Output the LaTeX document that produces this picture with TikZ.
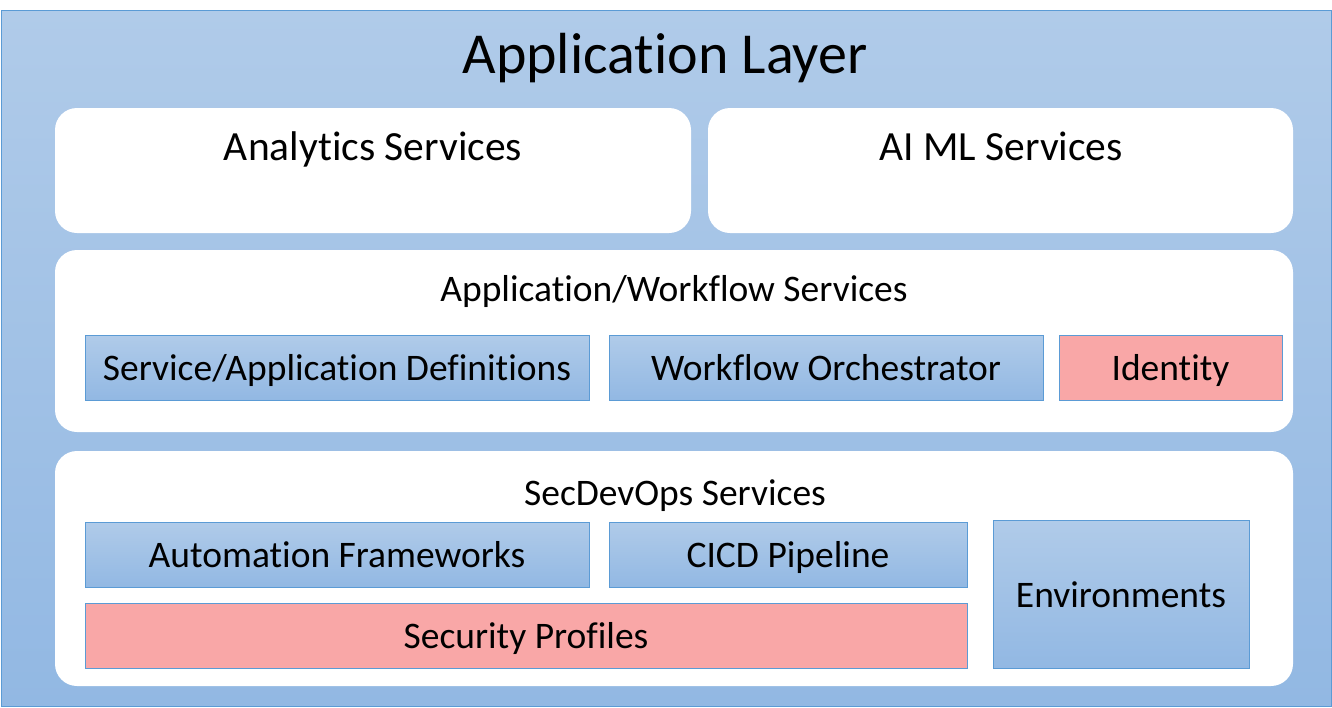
\documentclass[tikz,border=0pt]{standalone}
\usepackage{fontspec}
\setmainfont{Carlito}[Ligatures=NoCommon]
\usepackage{tikz}
\usetikzlibrary{positioning}
\usepackage{xcolor}
\definecolor{layertop}{RGB}{176,203,233}
\definecolor{layerbot}{RGB}{146,184,227}
\definecolor{edgeblue}{RGB}{91,155,213}
\definecolor{softpink}{RGB}{249,167,167}

\begin{document}
\begin{tikzpicture}[x=1pt, y=-1pt,
    panel/.style={fill=white, rounded corners=22pt, inner sep=0pt},
    ptitle/.style={anchor=base, inner sep=0pt, font=\fontsize{37.5}{40}\selectfont},
    svcbox/.style={draw=edgeblue, line width=1pt, top color=layertop, bottom color=layerbot,
      inner sep=0pt, minimum height=65pt, text height=26pt, text depth=0pt,
      font=\fontsize{37.5}{40}\selectfont},
    pinkbox/.style={svcbox, fill=softpink, top color=softpink, bottom color=softpink}]
  \useasboundingbox (0,0) rectangle (1332,707);
  \node[draw=edgeblue, line width=1pt, top color=layertop, bottom color=layerbot, inner sep=0pt,
    minimum width=1330pt, minimum height=696pt] (layer) at (666,358) {};
  \node[anchor=base, inner sep=0pt, font=\fontsize{58}{62}\selectfont] (layert) at (665,73) {Application Layer};
  % top row
  \node[panel, minimum width=636pt, minimum height=125pt] (analytics) at (373,170.5) {};
  \node[ptitle, font=\fontsize{41.5}{44}\selectfont] (analyticst) at (373,160) {Analytics Services};
  \node[panel, minimum width=585pt, minimum height=125pt] (aiml) at (1000.5,170.5) {};
  \node[ptitle, font=\fontsize{41.5}{44}\selectfont] (aimlt) at (1001,160) {AI ML Services};
  % workflow
  \node[panel, minimum width=1238pt, minimum height=182pt] (workflow) at (674,341) {};
  \node[ptitle] (workflowt) at (674,301) {Application/Workflow Services};
  \node[svcbox, minimum width=504pt] (svcdef) at (337,367.5) {Service/Application Definitions};
  \node[svcbox, minimum width=434pt] (orch) at (826,367.5) {Workflow Orchestrator};
  \node[pinkbox, minimum width=223pt] (ident) at (1170.5,367.5) {Identity};
  % secdevops
  \node[panel, minimum width=1238pt, minimum height=235pt] (secdevops) at (674,568.5) {};
  \node[ptitle] (secdevopst) at (675,505) {SecDevOps Services};
  \node[svcbox, minimum width=504pt] (autofw) at (337,554.5) {Automation Frameworks};
  \node[svcbox, minimum width=358pt] (cicd) at (788,554.5) {CICD Pipeline};
  \node[pinkbox, minimum width=882pt] (secprof) at (526,635.5) {Security Profiles};
  \node[svcbox, minimum width=256pt, minimum height=148pt] (envs) at (1121,594) {Environments};
\end{tikzpicture}
\end{document}
